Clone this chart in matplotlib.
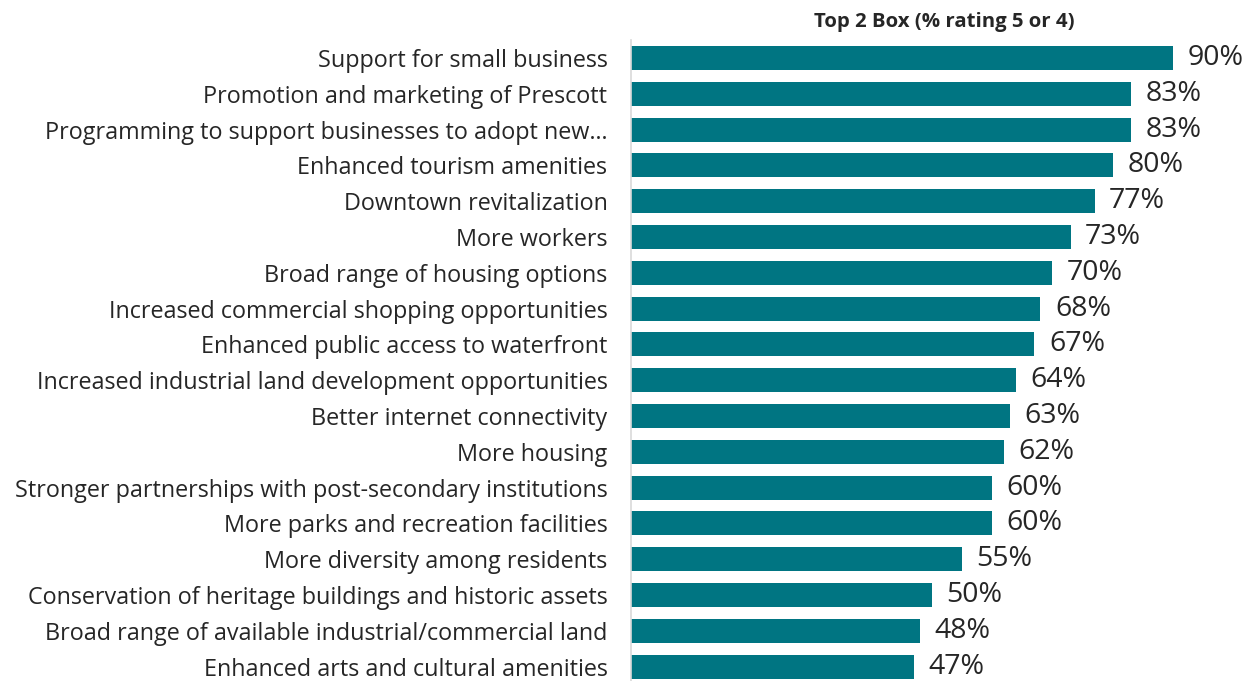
import matplotlib.pyplot as plt

categories = [
    "Support for small business",
    "Promotion and marketing of Prescott",
    "Programming to support businesses to adopt new\u2026",
    "Enhanced tourism amenities",
    "Downtown revitalization",
    "More workers",
    "Broad range of housing options",
    "Increased commercial shopping opportunities",
    "Enhanced public access to waterfront",
    "Increased industrial land development opportunities",
    "Better internet connectivity",
    "More housing",
    "Stronger partnerships with post-secondary institutions",
    "More parks and recreation facilities",
    "More diversity among residents",
    "Conservation of heritage buildings and historic assets",
    "Broad range of available industrial/commercial land",
    "Enhanced arts and cultural amenities",
]
top2_pct = [90, 83, 83, 80, 77, 73, 70, 68, 67, 64, 63, 62, 60, 60, 55, 50, 48, 47]

BAR_COLOR = "#007582"
TEXT_COLOR = "#262626"

plt.rcParams["font.family"] = ["Open Sans", "DejaVu Sans"]

fig = plt.figure(figsize=(12.56, 6.81), dpi=100)
ax = fig.add_axes([0.5024, 0.0, 0.4976, 0.941])

ypos = list(range(len(categories)))
ax.barh(ypos, top2_pct, height=0.67, color=BAR_COLOR, zorder=2)
for y, v in zip(ypos, top2_pct):
    ax.text(v + 2.4, y, f"{v}%", va="center", ha="left",
            fontsize=20.5, color=TEXT_COLOR)

ax.set_xlim(0, 103.8)
ax.set_ylim(17.4, -0.5)
ax.set_yticks(ypos)
ax.set_yticklabels(categories, fontsize=16.8, color=TEXT_COLOR)
ax.tick_params(axis="y", length=0, pad=17)
ax.set_xticks([])
for side in ("top", "right", "bottom"):
    ax.spines[side].set_visible(False)
ax.spines["left"].set_color("#d9d9d9")
ax.spines["left"].set_linewidth(1.2)

fig.text(0.752, 0.967, "Top 2 Box (% rating 5 or 4)", ha="center", va="center",
         fontsize=14.7, fontweight="bold", color=TEXT_COLOR)

fig.savefig("out.png", dpi=100)
